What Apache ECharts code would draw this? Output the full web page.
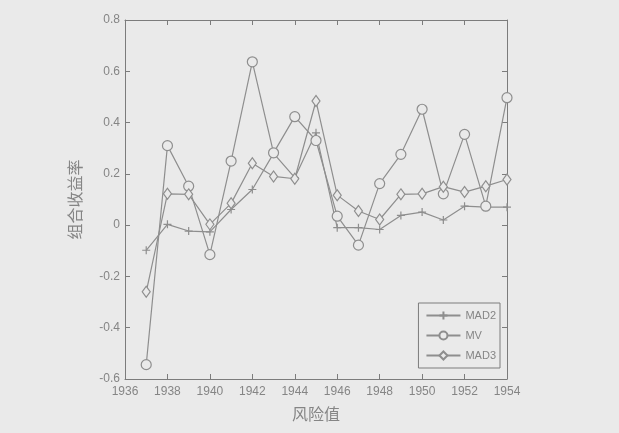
<!DOCTYPE html>
<html>
<head>
<meta charset="utf-8">
<script src="https://cdn.jsdelivr.net/npm/echarts@6/dist/echarts.min.js"></script>
<style>
  html, body { margin: 0; padding: 0; background: #eaeaea; }
  #main { width: 619px; height: 433px; }
</style>
</head>
<body>
<div id="main"></div>
<script>
// 年份
var years = [1937, 1938, 1939, 1940, 1941, 1942, 1943, 1944, 1945, 1946, 1947, 1948, 1949, 1950, 1951, 1952, 1953, 1954];
// 各模型组合收益率
var mad2 = [-0.098, 0.003, -0.023, -0.026, 0.061, 0.139, 0.28, 0.185, 0.36, -0.01, -0.01, -0.017, 0.038, 0.051, 0.02, 0.074, 0.07, 0.07];
var mv = [-0.544, 0.31, 0.152, -0.115, 0.25, 0.637, 0.282, 0.423, 0.33, 0.035, -0.078, 0.162, 0.276, 0.452, 0.122, 0.354, 0.074, 0.497];
var mad3 = [-0.26, 0.122, 0.12, 0.003, 0.085, 0.241, 0.19, 0.181, 0.484, 0.117, 0.055, 0.022, 0.12, 0.122, 0.15, 0.129, 0.152, 0.178];
var seriesNames = ["MAD2", "MV", "MAD3"];

var bg = "#eaeaea";
var lineColor = "#8e8e8e";
var axisColor = "#7c7c7c";
var textColor = "#858585";

function pairs(arr) {
  return years.map(function (y, i) { return [y, arr[i]]; });
}

var plusPath = "path://M0,5L10,5M5,0L5,10";

var chartDom = document.getElementById("main");
var myChart = echarts.init(chartDom, null, { renderer: "canvas" });

function lineSeries(name, data, symbol, size) {
  return {
    name: name,
    type: "line",
    data: pairs(data),
    symbol: symbol,
    symbolSize: size,
    showAllSymbol: true,
    lineStyle: { color: lineColor, width: 1.2 },
    itemStyle: { color: bg, borderColor: lineColor, borderWidth: 1.2 },
    emphasis: { disabled: true },
    animation: false
  };
}

// 边框坐标轴（上、右）
var boxAxis = {
  axisLine: { show: true, onZero: false, lineStyle: { color: axisColor } },
  axisTick: { show: true, inside: true, length: 5, lineStyle: { color: axisColor } },
  axisLabel: { show: false },
  splitLine: { show: false }
};

var option = {
  backgroundColor: bg,
  textStyle: { fontFamily: "Liberation Sans" },
  grid: { left: 125, right: 112, top: 20, bottom: 54 },
  legend: {
    data: seriesNames,
    orient: "vertical",
    right: 119,
    top: 303,
    itemWidth: 34,
    itemHeight: 10,
    itemGap: 9,
    padding: [7, 4, 7, 7],
    borderColor: axisColor,
    borderWidth: 1,
    textStyle: { color: textColor, fontSize: 11, fontFamily: "Liberation Sans" }
  },
  xAxis: [
    {
      type: "value",
      min: 1936,
      max: 1954,
      interval: 2,
      name: "风险值",
      nameLocation: "middle",
      nameGap: 27,
      nameTextStyle: { color: textColor, fontSize: 16, fontFamily: "Noto Sans CJK SC" },
      axisLine: { onZero: false, lineStyle: { color: axisColor } },
      axisTick: { inside: true, length: 5, lineStyle: { color: axisColor } },
      axisLabel: {
        color: textColor,
        fontSize: 12,
        margin: 7,
        formatter: function (v) { return String(v); }
      },
      splitLine: { show: false }
    },
    Object.assign({ type: "value", position: "top", min: 1936, max: 1954, interval: 2 }, boxAxis)
  ],
  yAxis: [
    {
      type: "value",
      min: -0.6,
      max: 0.8,
      interval: 0.2,
      name: "组合收益率",
      nameLocation: "middle",
      nameGap: 42,
      nameTextStyle: { color: textColor, fontSize: 16, fontFamily: "Noto Sans CJK SC" },
      axisLine: { show: true, onZero: false, lineStyle: { color: axisColor } },
      axisTick: { show: true, inside: true, length: 5, lineStyle: { color: axisColor } },
      axisLabel: {
        color: textColor,
        fontSize: 12,
        margin: 5,
        formatter: function (v) { return String(Math.round(v * 10) / 10); }
      },
      splitLine: { show: false }
    },
    Object.assign({ type: "value", position: "right", min: -0.6, max: 0.8, interval: 0.2 }, boxAxis)
  ],
  series: [
    lineSeries("MAD2", mad2, plusPath, 8),
    lineSeries("MV", mv, "circle", 10),
    lineSeries("MAD3", mad3, "diamond", [8, 11])
  ]
};

option && myChart.setOption(option);
</script>
</body>
</html>
